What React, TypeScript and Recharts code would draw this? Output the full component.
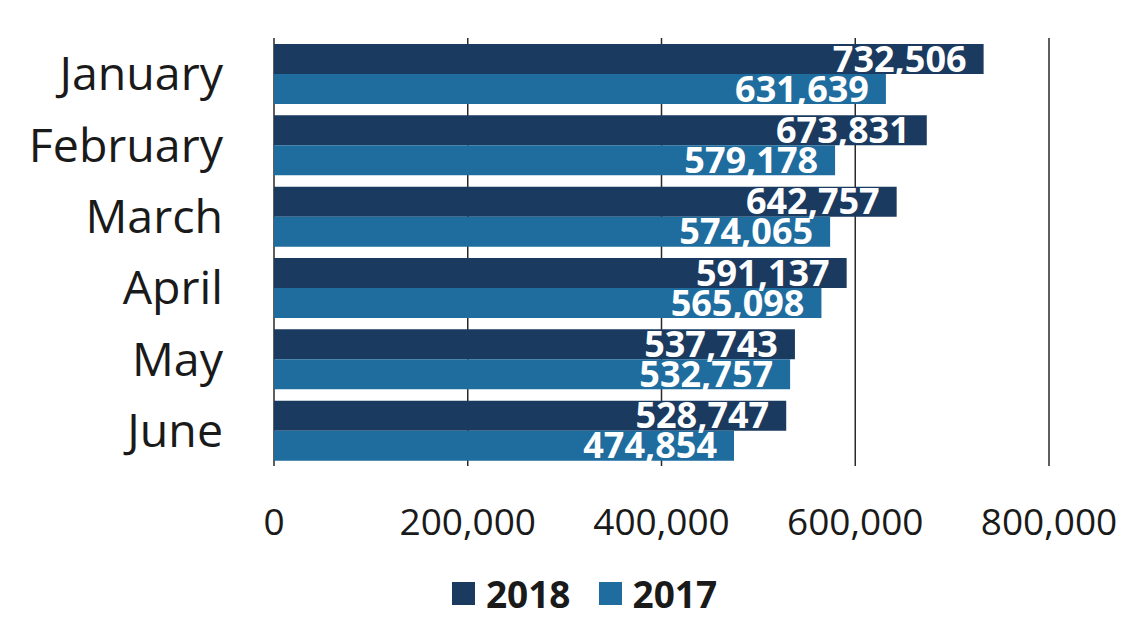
import { BarChart, Bar, XAxis, YAxis, CartesianGrid, Legend, LabelList } from 'recharts';

const months = ['January', 'February', 'March', 'April', 'May', 'June'];
const sales2018 = [732506, 673831, 642757, 591137, 537743, 528747];
const sales2017 = [631639, 579178, 574065, 565098, 532757, 474854];
const xTicks = [0, 200000, 400000, 600000, 800000];

const COLORS = {
  y2018: '#1a3a5f',
  y2017: '#1f6d9f',
};

const FONT = "'Open Sans', 'Noto Sans', sans-serif";

const data = months.map((m, i) => ({ month: m, y2018: sales2018[i], y2017: sales2017[i] }));

const fmt = (v: number) => v.toLocaleString('en-US');

// legend drawn by hand so sizes match the scan
function LegendBox() {
  const items = [
    { label: '2018', color: COLORS.y2018 },
    { label: '2017', color: COLORS.y2017 },
  ];
  return (
    <div style={{ height: 94, display: 'flex', justifyContent: 'center', alignItems: 'center', paddingLeft: 120 }}>
      {items.map((it) => (
        <div key={it.label} style={{ display: 'flex', alignItems: 'center', margin: '0 14px' }}>
          <span style={{ width: 23, height: 23, background: it.color, display: 'inline-block', marginRight: 11 }} />
          <span style={{ fontFamily: FONT, fontWeight: 700, fontSize: 37, color: '#1a1a1a', lineHeight: 1 }}>{it.label}</span>
        </div>
      ))}
    </div>
  );
}

export default function App() {
  return (
    <div style={{ position: 'absolute', top: 0, left: 0, width: 1127, height: 640, background: '#fff' }}>
      <BarChart
        width={1127}
        height={640}
        data={data}
        layout="vertical"
        margin={{ top: 38, right: 78, left: 0, bottom: 0 }}
        barSize={30}
        barGap={0}
      >
        <CartesianGrid horizontal={false} stroke="#2a2a2a" strokeWidth={1.5} />
        <XAxis
          type="number"
          domain={[0, 800000]}
          ticks={xTicks}
          tickFormatter={fmt}
          axisLine={false}
          tickLine={false}
          tickSize={0}
          tickMargin={43}
          height={80}
          tick={{ fontFamily: FONT, fontSize: 37, fill: '#1a1a1a' }}
        />
        <YAxis
          type="category"
          dataKey="month"
          width={274}
          axisLine={false}
          tickLine={false}
          tickSize={0}
          tickMargin={51}
          tick={{ fontFamily: FONT, fontSize: 46.5, fill: '#1a1a1a' }}
        />
        <Legend verticalAlign="bottom" content={() => <LegendBox />} />
        <Bar dataKey="y2018" name="2018" fill={COLORS.y2018} isAnimationActive={false}>
          <LabelList
            dataKey="y2018"
            position="insideRight"
            offset={17}
            formatter={(v: number) => fmt(v)}
            style={{ fontFamily: FONT, fontWeight: 700, fontSize: 36, fill: '#fff' }}
          />
        </Bar>
        <Bar dataKey="y2017" name="2017" fill={COLORS.y2017} isAnimationActive={false}>
          <LabelList
            dataKey="y2017"
            position="insideRight"
            offset={17}
            formatter={(v: number) => fmt(v)}
            style={{ fontFamily: FONT, fontWeight: 700, fontSize: 36, fill: '#fff' }}
          />
        </Bar>
      </BarChart>
    </div>
  );
}
